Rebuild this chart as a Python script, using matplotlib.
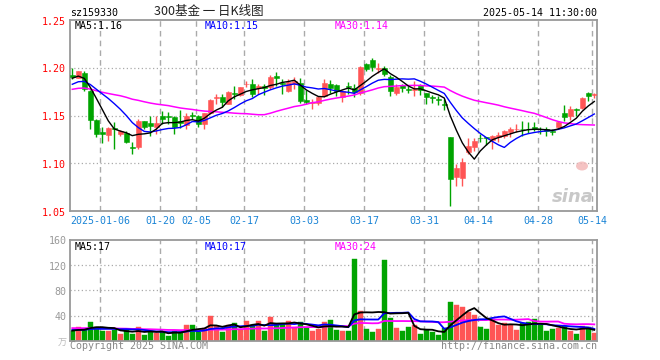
import numpy as np
import matplotlib
matplotlib.use("Agg")
import matplotlib.pyplot as plt
from matplotlib.patches import Ellipse

# ---------------- data ----------------
opens = [1.192, 1.1896, 1.195, 1.176, 1.145, 1.1325, 1.130, 1.1365, 1.131, 1.132,
         1.117, 1.117, 1.144, 1.142, 1.1375, 1.1497, 1.149, 1.148, 1.144, 1.140,
         1.151, 1.150, 1.141, 1.1525, 1.168, 1.169, 1.1625, 1.174, 1.1715, 1.1826,
         1.1826, 1.1785, 1.181, 1.1795, 1.191, 1.184, 1.1757, 1.1826, 1.184, 1.166,
         1.1635, 1.1635, 1.1705, 1.1833, 1.182, 1.1694, 1.180, 1.1785, 1.174, 1.2036,
         1.2081, 1.199, 1.1997, 1.190, 1.1735, 1.1816, 1.177, 1.177, 1.1816, 1.174,
         1.1683, 1.167, 1.1615, 1.127, 1.0854, 1.0847, 1.1115, 1.1167, 1.1264, 1.127,
         1.1243, 1.1271, 1.1288, 1.1323, 1.1354, 1.1361, 1.1361, 1.138, 1.1358, 1.1358,
         1.1333, 1.1375, 1.1531, 1.1497, 1.1559, 1.1576, 1.1739, 1.1715]
highs = [1.200, 1.197, 1.197, 1.177, 1.146, 1.1375, 1.1375, 1.143, 1.135, 1.134,
         1.122, 1.146, 1.1445, 1.1497, 1.1497, 1.155, 1.154, 1.149, 1.156, 1.153,
         1.154, 1.151, 1.153, 1.167, 1.172, 1.172, 1.1757, 1.181, 1.180, 1.186,
         1.188, 1.1826, 1.183, 1.1925, 1.196, 1.188, 1.188, 1.190, 1.1896, 1.177,
         1.167, 1.1705, 1.188, 1.187, 1.1826, 1.1764, 1.185, 1.1826, 1.2017, 1.2053,
         1.2099, 1.2046, 1.2017, 1.1925, 1.1833, 1.1826, 1.181, 1.186, 1.1826, 1.174,
         1.1715, 1.1705, 1.167, 1.127, 1.0993, 1.1056, 1.1264, 1.1264, 1.1306, 1.128,
         1.1299, 1.1323, 1.1347, 1.1375, 1.141, 1.1438, 1.1427, 1.1427, 1.138, 1.1375,
         1.1358, 1.1438, 1.1611, 1.160, 1.1583, 1.1694, 1.175, 1.174]
lows = [1.188, 1.189, 1.176, 1.136, 1.127, 1.121, 1.1236, 1.115, 1.129, 1.121,
        1.110, 1.115, 1.136, 1.129, 1.131, 1.141, 1.141, 1.131, 1.137, 1.136,
        1.146, 1.1375, 1.136, 1.1514, 1.1625, 1.159, 1.162, 1.167, 1.1705, 1.180,
        1.169, 1.172, 1.171, 1.178, 1.181, 1.173, 1.175, 1.178, 1.1635, 1.162,
        1.1566, 1.161, 1.169, 1.174, 1.1705, 1.1646, 1.172, 1.169, 1.1715, 1.197,
        1.1966, 1.1942, 1.191, 1.1705, 1.1715, 1.175, 1.174, 1.1705, 1.171, 1.1625,
        1.1635, 1.161, 1.1555, 1.055, 1.0757, 1.0765, 1.1097, 1.1132, 1.1219, 1.1195,
        1.115, 1.1219, 1.1264, 1.127, 1.1323, 1.1288, 1.1316, 1.134, 1.1306, 1.1288,
        1.1299, 1.1358, 1.1444, 1.1451, 1.1497, 1.1566, 1.1653, 1.168]
closes = [1.190, 1.1963, 1.178, 1.145, 1.131, 1.131, 1.137, 1.1355, 1.134, 1.122,
          1.116, 1.144, 1.138, 1.139, 1.1417, 1.146, 1.148, 1.138, 1.142, 1.150,
          1.150, 1.141, 1.1525, 1.166, 1.169, 1.1646, 1.175, 1.173, 1.180, 1.1833,
          1.173, 1.181, 1.179, 1.1907, 1.1896, 1.183, 1.1855, 1.186, 1.165, 1.1646,
          1.1646, 1.1694, 1.1844, 1.1785, 1.1757, 1.1757, 1.1795, 1.1747, 1.2011, 1.1987,
          1.2011, 1.200, 1.1934, 1.176, 1.180, 1.179, 1.1764, 1.178, 1.1764, 1.1694,
          1.168, 1.1665, 1.161, 1.083, 1.0951, 1.1014, 1.1184, 1.1236, 1.126, 1.126,
          1.1288, 1.1299, 1.1333, 1.1358, 1.1358, 1.1354, 1.1354, 1.1358, 1.1354, 1.1333,
          1.1323, 1.1427, 1.1486, 1.1566, 1.1555, 1.1688, 1.1705, 1.172]
volumes = [15.5, 21, 19, 29.5, 22, 16, 16, 17, 11, 16.5,
           11, 21.5, 9.5, 15, 13, 13.5, 8, 15, 14, 24.5,
           24.5, 14, 20, 39, 23.5, 14, 24.5, 28, 17, 31,
           25.5, 31, 15, 37.5, 27, 27, 31, 22, 30, 20.5,
           15, 18.5, 29, 32.5, 17, 15, 15, 129.5, 47.5, 18.5,
           14, 18.5, 128, 36.5, 20.5, 15, 21.5, 24.5, 10, 17,
           14, 9, 19.5, 62, 56.5, 53.5, 46, 41, 21.5, 18.5,
           34, 24.5, 28.5, 24.5, 17, 28.5, 30.5, 34.5, 24.5, 15,
           18, 20, 24, 16, 11, 24, 22, 13]
# sessions before the first visible candle (only used to warm up the moving averages,
# estimated from the starting level of the MA lines)
prior_closes = [1.165, 1.170, 1.178, 1.182, 1.180, 1.175, 1.172, 1.168, 1.171, 1.176,
                1.180, 1.183, 1.179, 1.174, 1.170, 1.172, 1.176, 1.178, 1.175, 1.172,
                1.170, 1.174, 1.178, 1.180, 1.180, 1.185, 1.190, 1.192, 1.188]
prior_volumes = [24, 19, 22, 28, 18, 20, 25, 17, 21, 23,
                 26, 19, 18, 22, 24, 20, 17, 23, 21, 23,
                 20, 16, 19, 17, 18, 15, 18, 16, 15.2]
tick_index = [5, 15, 21, 29, 39, 49, 59, 68, 78, 87]
tick_labels = ["2025-01-06", "01-20", "02-05", "02-17", "03-03",
               "03-17", "03-31", "04-14", "04-28", "05-14"]
price_ticks = [1.05, 1.10, 1.15, 1.20, 1.25]
volume_ticks = [40, 80, 120, 160]

# ---------------- helpers ----------------
W, H = 660, 360
RED = "#ff5555"
GREEN = "#00a400"
GRID = "#aaaaaa"
FRAME = "#999999"
MONO = "DejaVu Sans Mono"


def moving_average(prior, values, n):
    s = np.array(list(prior) + list(values), dtype=float)
    out = np.convolve(s, np.ones(n) / n, mode="valid")
    return out[-len(values):]


def fx(px):
    return px / W


def fy(py):
    return 1 - py / H


n = len(closes)
idx = np.arange(n)
o = np.array(opens); c = np.array(closes); h = np.array(highs); l = np.array(lows)
v = np.array(volumes)
up = c >= o
cols = np.where(up, RED, GREEN)

fig = plt.figure(figsize=(6.6, 3.6), dpi=100)
fig.patch.set_facecolor("white")

x_left, x_right = -0.383, 87.45
ax = fig.add_axes([fx(70), fy(211), fx(527), 191 / H])
axv = fig.add_axes([fx(70), fy(340.7), fx(527), 100.7 / H])

for a in (ax, axv):
    a.set_xlim(x_left, x_right)
    for s in a.spines.values():
        s.set_color(FRAME)
        s.set_linewidth(1.3)
    a.set_xticks([])
    a.set_yticks([])
    for t in tick_index:
        a.axvline(t - 0.3, color=GRID, lw=1.0, ls=(0, (4, 3)), zorder=0)

# ---- price panel ----
ax.set_ylim(1.05, 1.25)
for yv in price_ticks[1:-1]:
    ax.axhline(yv, color=GRID, lw=0.9, ls=(0, (1, 2)), zorder=0)
ax.vlines(idx, l, h, colors=cols, lw=1.0, zorder=2)
body_bottom = np.minimum(o, c)
body_h = np.maximum(np.abs(c - o), 0.0009)
ax.bar(idx, body_h, bottom=body_bottom, width=0.78, color=cols,
       edgecolor=cols, linewidth=0.4, zorder=3)

ma5 = moving_average(prior_closes, closes, 5)
ma10 = moving_average(prior_closes, closes, 10)
ma30 = moving_average(prior_closes, closes, 30)
ax.plot(idx, ma30, color="#ff00ff", lw=1.1, zorder=4)
ax.plot(idx, ma10, color="#0000ff", lw=1.0, zorder=4)
ax.plot(idx, ma5, color="#000000", lw=1.0, zorder=5)

# ---- volume panel ----
axv.set_ylim(0, 160)
for yv in volume_ticks[:-1]:
    axv.axhline(yv, color=GRID, lw=0.9, ls=(0, (1, 2)), zorder=0)
axv.bar(idx, v, width=0.78, color=cols, edgecolor=cols, linewidth=0.3, zorder=2)
vma5 = moving_average(prior_volumes, volumes, 5)
vma10 = moving_average(prior_volumes, volumes, 10)
vma30 = moving_average(prior_volumes, volumes, 30)
axv.plot(idx, vma30, color="#ff00ff", lw=1.3, zorder=4)
axv.plot(idx, vma10, color="#0000ff", lw=1.3, zorder=4)
axv.plot(idx, vma5, color="#000000", lw=1.3, zorder=5)

# ---- texts ----
fs = 7.2
# price axis labels
for yv in price_ticks:
    ypx = 211 - (yv - 1.05) / 0.20 * 191
    fig.text(fx(65.5), fy(ypx + 1.5), f"{yv:.2f}", color="#ff0000", family=MONO,
             fontsize=fs, ha="right", va="center")
# volume axis labels
for yv in volume_ticks:
    ypx = 340.7 - yv / 160 * 100.7
    fig.text(fx(66.5), fy(ypx + 1.5), f"{yv}", color="#999999", family=MONO,
             fontsize=fs, ha="right", va="center")
fig.text(fx(66.5), fy(343), "万", color="#bbbbbb", family=["Noto Sans CJK SC", "DejaVu Sans"],
         fontsize=6.5, ha="right", va="center")

# date labels
for t, lab in zip(tick_index, tick_labels):
    xpx = 72.3 + 6 * (t - 0.3)
    fig.text(fx(xpx), fy(221.5), lab, color="#1a84d6", family=MONO, fontsize=fs,
             ha="center", va="center")

# header
fig.text(fx(70), fy(12.5), "sz159330", color="black", family=MONO, fontsize=fs,
         ha="left", va="center")
fig.text(fx(209), fy(12), "300基金 一 日K线图", color="#222222",
         family=["Noto Sans CJK SC", "DejaVu Sans"], fontsize=9, ha="center", va="center")
fig.text(fx(597), fy(12.5), "2025-05-14 11:30:00", color="black", family=MONO,
         fontsize=fs, ha="right", va="center")

# MA legends
fig.text(fx(75), fy(26), "MA5:1.16", color="black", family=MONO, fontsize=fs, va="center")
fig.text(fx(205), fy(26), "MA10:1.15", color="#0000ff", family=MONO, fontsize=fs, va="center")
fig.text(fx(335), fy(26), "MA30:1.14", color="#ff00ff", family=MONO, fontsize=fs, va="center")
fig.text(fx(75), fy(246.5), "MA5:17", color="black", family=MONO, fontsize=fs, va="center")
fig.text(fx(205), fy(246.5), "MA10:17", color="#0000ff", family=MONO, fontsize=fs, va="center")
fig.text(fx(335), fy(246.5), "MA30:24", color="#ff00ff", family=MONO, fontsize=fs, va="center")

# footer
fig.text(fx(70), fy(346), "Copyright 2025 SINA.COM", color="#888888", family=MONO,
         fontsize=fs, ha="left", va="center")
fig.text(fx(597), fy(346), "http://finance.sina.com.cn", color="#888888", family=MONO,
         fontsize=fs, ha="right", va="center")

# sina watermark
fig.text(fx(594), fy(197), "sina", color="#c8c8c8", fontsize=13, fontweight="bold",
         style="italic", ha="right", va="center", family="DejaVu Sans")
fig.patches.append(Ellipse((fx(582), fy(166)), 12 / W, 9 / H, transform=fig.transFigure,
                           facecolor="#f3b5b5", edgecolor="none", alpha=0.8))

fig.savefig("out.png", dpi=100, facecolor="white")
